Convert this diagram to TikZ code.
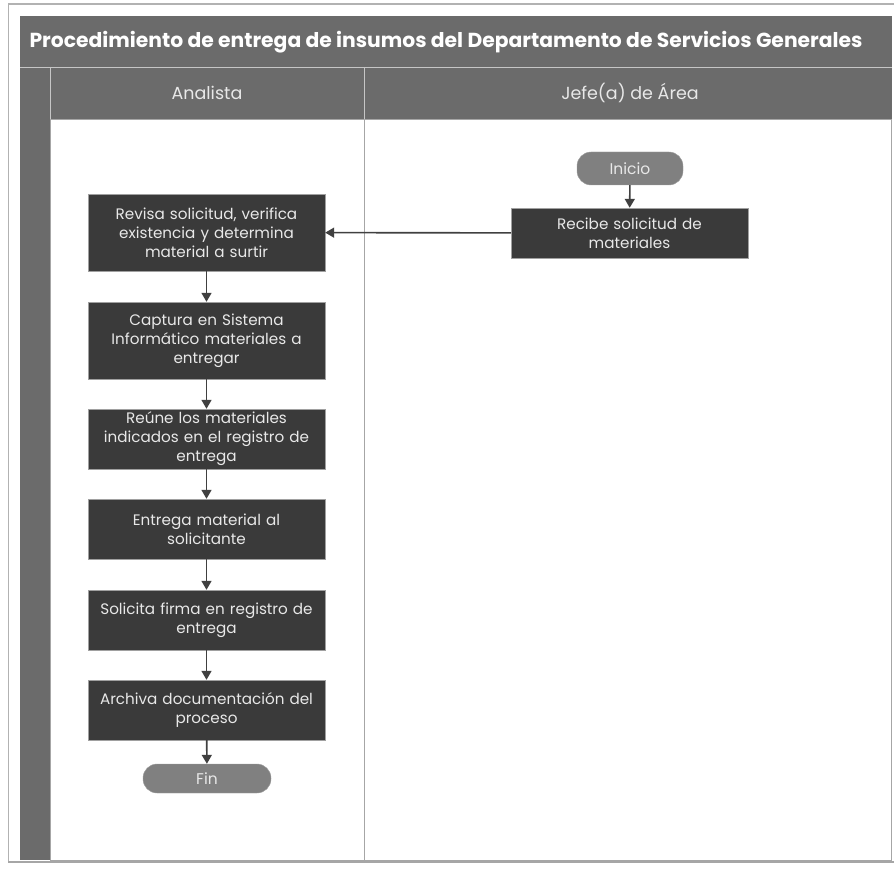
\documentclass[tikz,border=0pt]{standalone}
\usepackage{fontspec}
\setmainfont{Poppins}
\usetikzlibrary{arrows.meta}
\definecolor{pool}{RGB}{107,107,107}
\definecolor{caja}{RGB}{58,58,58}
\definecolor{term}{RGB}{128,128,128}
\definecolor{borde}{RGB}{160,160,160}
\definecolor{flecha}{RGB}{64,64,64}
\definecolor{texto}{RGB}{232,232,232}
\tikzset{
	proceso/.style={draw=borde, fill=caja, text=texto, minimum width=237pt, text width=235pt, align=center, inner sep=0pt, font=\fontsize{15.2}{19}\selectfont},
	terminal/.style={draw=borde, fill=term, text=texto, rounded corners=14pt, inner sep=0pt, font=\fontsize{15.5}{17}\selectfont},
	flujo/.style={draw=flecha, line width=1.6pt, -{Triangle[length=9pt,width=10pt]}},
}

\begin{document}
\begin{tikzpicture}[x=1pt, y=-1pt]
		\useasboundingbox (0,0) rectangle (894,869);
		\draw[gray!60, line width=1.2pt] (8,4) -- (894,4);
		\draw[gray!60] (8,4) -- (8,862);
		\draw[gray!70, line width=1.5pt] (8,862) -- (894,862);
		% pool y carriles
		\fill[pool] (20,16) rectangle (892,119);
		\fill[pool] (20,119) rectangle (50,860);
		\draw[gray!70] (50,119) rectangle (891,860);
		\draw[gray!45] (20,67) -- (892,67);
		\draw[gray!45] (50,67) -- (50,119);
		\draw[gray!45] (364,67) -- (364,119);
		\draw[gray!70] (364,119) -- (364,860);
		\node[anchor=west, text=white, font=\fontsize{20.3}{22}\selectfont\bfseries] (titulo) at (26,42) {Procedimiento de entrega de insumos del Departamento de Servicios Generales};
		\node[text=texto, font=\fontsize{17.5}{20}\selectfont] (analista) at (207,93) {Analista};
		\node[text=texto, font=\fontsize{17.5}{20}\selectfont] (jefe) at (630,93) {Jefe(a) de Área};
		% jefe de area
		\node[terminal, minimum width=106pt, minimum height=33pt] (inicio) at (630,168.5) {Inicio};
		\node[proceso, minimum height=50pt] (recibe) at (629.5,233) {Recibe solicitud de\\materiales};
		% analista
		\node[proceso, minimum height=77pt] (revisa) at (206.5,232.5) {Revisa solicitud, verifica\\existencia y determina\\material a surtir};
		\node[proceso, minimum height=77pt] (captura) at (206.5,340.5) {Captura en Sistema\\Informático materiales a\\entregar};
		\node[proceso, minimum height=60pt] (reune) at (206.5,439) {Reúne los materiales\\indicados en el registro de\\entrega};
		\node[proceso, minimum height=60pt] (entrega) at (206.5,529) {Entrega material al\\solicitante};
		\node[proceso, minimum height=60pt] (firma) at (206.5,620) {Solicita firma en registro de\\entrega};
		\node[proceso, minimum height=60pt] (archiva) at (206.5,710) {Archiva documentación del\\proceso};
		\node[terminal, minimum width=128pt, minimum height=29pt] (fin) at (207,778.5) {Fin};
		\draw[flujo] (inicio) -- (recibe);
		\draw[flujo] (recibe) -- (revisa);
		\draw[flujo] (revisa) -- (captura);
		\draw[flujo] (captura) -- (reune);
		\draw[flujo] (reune) -- (entrega);
		\draw[flujo] (entrega) -- (firma);
		\draw[flujo] (firma) -- (archiva);
		\draw[flujo] (archiva) -- (fin);
	\end{tikzpicture}
\end{document}
